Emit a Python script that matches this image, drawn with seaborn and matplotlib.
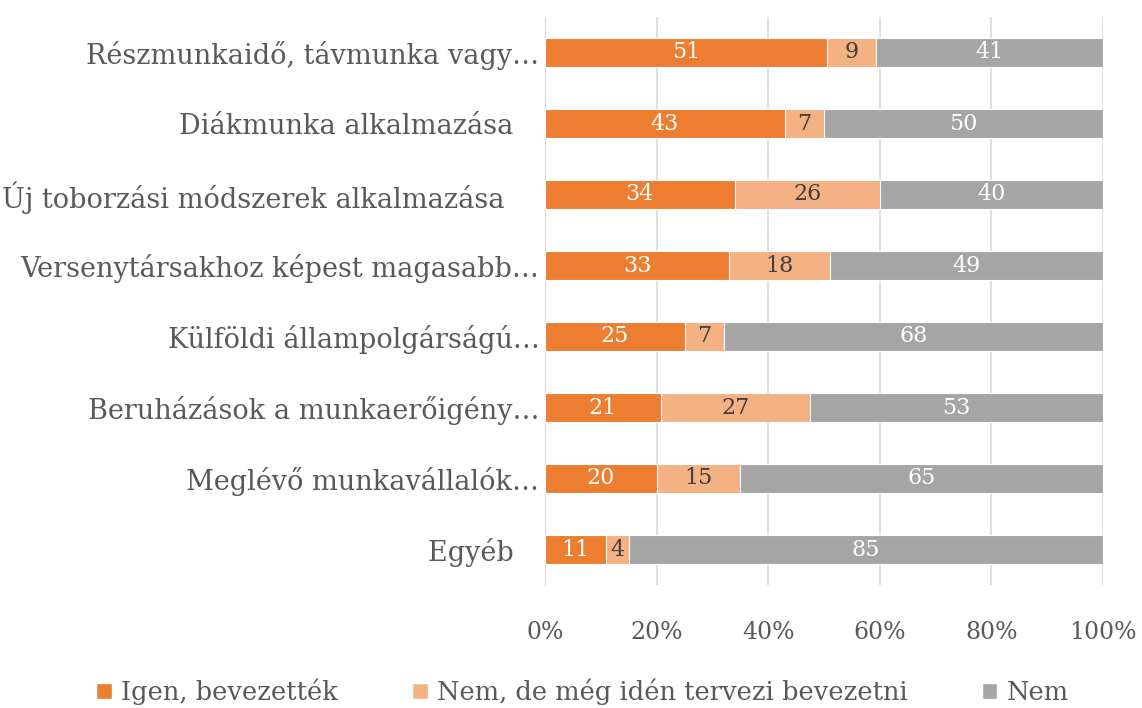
import matplotlib
matplotlib.use("Agg")
import matplotlib.pyplot as plt
import numpy as np
import pandas as pd
import seaborn as sns
from matplotlib.patches import Patch
from matplotlib.ticker import PercentFormatter

categories = ["Részmunkaidő, távmunka vagy…",
              "Diákmunka alkalmazása   ",
              "Új toborzási módszerek alkalmazása    ",
              "Versenytársakhoz képest magasabb…",
              "Külföldi állampolgárságú…",
              "Beruházások a munkaerőigény…",
              "Meglévő munkavállalók…",
              "Egyéb   "]
igen = [51, 43, 34, 33, 25, 21, 20, 11]
terv = [9, 7, 26, 18, 7, 27, 15, 4]
nem = [41, 50, 40, 49, 68, 53, 65, 85]
series_names = ["Igen, bevezették", "Nem, de még idén tervezi bevezetni", "Nem"]
colors = ["#ED7D31", "#F4B183", "#A5A5A5"]
text_colors = ["white", "#404040", "white"]

sns.set_style("white")
plt.rcParams["font.family"] = ["DejaVu Serif"]

df = pd.DataFrame({"cat": categories, "igen": igen, "terv": terv, "nem": nem})
tot = df[["igen", "terv", "nem"]].sum(axis=1)
share = df[["igen", "terv", "nem"]].div(tot, axis=0) * 100
cum = share.cumsum(axis=1)

fig = plt.figure(figsize=(11.42, 7.08), dpi=100)
ax = fig.add_axes([545 / 1142, 1 - 585 / 708, 558 / 1142, 568 / 708])

# draw widest first so the shorter stacks sit on top
for col, c in zip(["nem", "terv", "igen"], colors[::-1]):
    sns.barplot(x=cum[col], y=df["cat"], color=c, saturation=1, width=0.4,
                orient="h", edgecolor="white", linewidth=0.8, ax=ax, zorder=3)

for i in range(len(categories)):
    left = 0
    for j, col in enumerate(["igen", "terv", "nem"]):
        w = share[col][i]
        ax.text(left + w / 2, i, str(df[col][i]), ha="center", va="center",
                color=text_colors[j], fontsize=16, zorder=4)
        left += w

ax.set_xlim(0, 100)
ax.set_xticks([0, 20, 40, 60, 80, 100])
ax.xaxis.set_major_formatter(PercentFormatter(decimals=0))
ax.grid(axis="x", color="#D9D9D9", linewidth=1.2, zorder=0)
ax.set_xlabel("")
ax.set_ylabel("")
for s in ["top", "right", "bottom"]:
    ax.spines[s].set_visible(False)
ax.spines["left"].set_color("#D9D9D9")
ax.tick_params(axis="x", labelsize=17, colors="#595959", pad=26, length=0)
ax.tick_params(axis="y", labelsize=19.5, colors="#595959", pad=4, length=0)

handles = [Patch(facecolor=c, label=n) for c, n in zip(colors, series_names)]
fig.legend(handles=handles, loc="center", bbox_to_anchor=(0.51, 1 - 692 / 708),
           ncol=3, frameon=False, fontsize=18.5, handlelength=0.6, handleheight=0.6,
           handletextpad=0.35, columnspacing=2.9, labelcolor="#595959")

fig.savefig("out.png", dpi=100)
